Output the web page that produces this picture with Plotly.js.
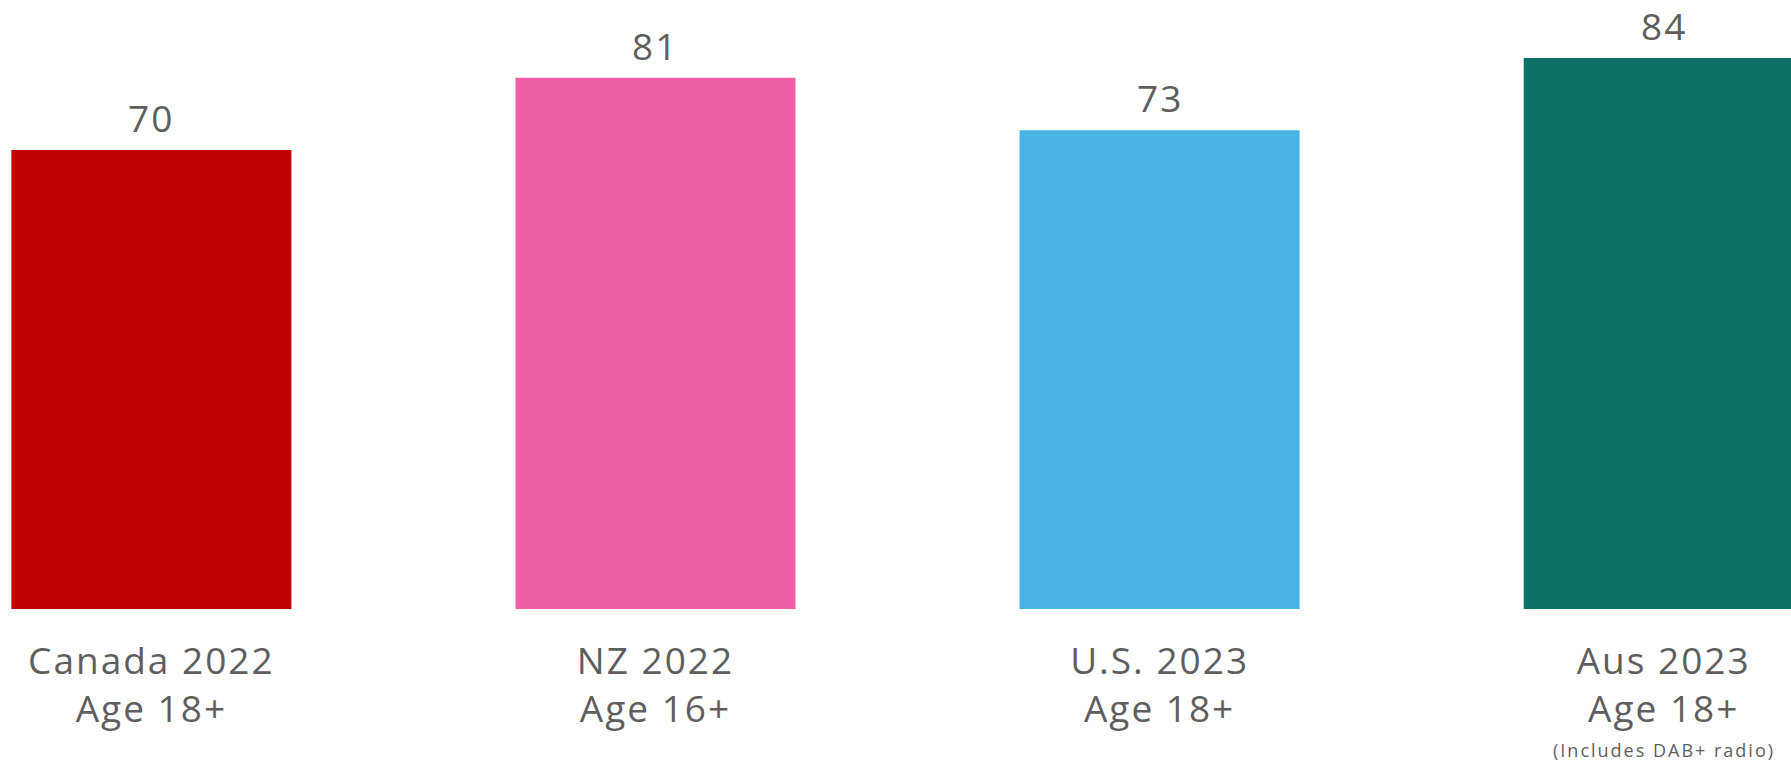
<!DOCTYPE html>
<html>
<head>
<meta charset="utf-8">
<script src="https://cdn.plot.ly/plotly-3.0.1.min.js"></script>
<style>
  html, body { margin: 0; padding: 0; background: #ffffff; }
  #chart { width: 1791px; height: 767px; }
  #chart .xtick text, #chart .annotation-text { letter-spacing: 2px; }
</style>
</head>
<body>
<div id="chart"></div>
<script>
// ---- data ----
const categories = ["Canada 2022", "NZ 2022", "U.S. 2023", "Aus 2023"];
const ageGroups = ["Age 18+", "Age 16+", "Age 18+", "Age 18+"];
const notes = ["", "", "", "(Includes DAB+ radio)"];
const values = [70, 81, 73, 84];
const barColors = ["#C00000", "#EE5FA6", "#47B4E3", "#0E7366"];

// ---- styles ----
const FONT = "'Open Sans', 'Liberation Sans', sans-serif";
const TEXT_COLOR = "#5e5e5e";

const tickText = categories.map((c, i) => c + "<br>" + ageGroups[i]);

const trace = {
  type: "bar",
  x: categories,
  y: values,
  marker: { color: barColors, line: { width: 0 } },
  hoverinfo: "skip"
};

const annotations = categories.map((c, i) => ({
  x: c,
  y: values[i],
  xref: "x",
  yref: "y",
  text: String(values[i]),
  showarrow: false,
  yanchor: "bottom",
  xanchor: "center",
  yshift: 5,
  font: { family: FONT, size: 37, color: TEXT_COLOR }
}));

notes.forEach((n, i) => {
  if (!n) return;
  annotations.push({
    x: categories[i],
    y: 0,
    xref: "x",
    yref: "paper",
    text: n,
    showarrow: false,
    yanchor: "top",
    xanchor: "center",
    yshift: -127,
    font: { family: FONT, size: 18, color: TEXT_COLOR }
  });
});

const layout = {
  width: 1791,
  height: 767,
  margin: { l: 0, r: 0, t: 0, b: 158, pad: 0 },
  paper_bgcolor: "#ffffff",
  plot_bgcolor: "#ffffff",
  showlegend: false,
  bargap: 0.4445,
  xaxis: {
    type: "category",
    range: [-0.3003, 3.2525],
    tickmode: "array",
    tickvals: categories,
    ticktext: tickText,
    ticks: "",
    ticklabelstandoff: 27,
    showgrid: false,
    zeroline: false,
    showline: false,
    tickfont: { family: FONT, size: 37, color: TEXT_COLOR },
    fixedrange: true
  },
  yaxis: {
    range: [0, 92.86],
    visible: false,
    showgrid: false,
    zeroline: false,
    fixedrange: true
  },
  annotations: annotations
};

Plotly.newPlot("chart", [trace], layout, { displayModeBar: false, staticPlot: true });
</script>
</body>
</html>
